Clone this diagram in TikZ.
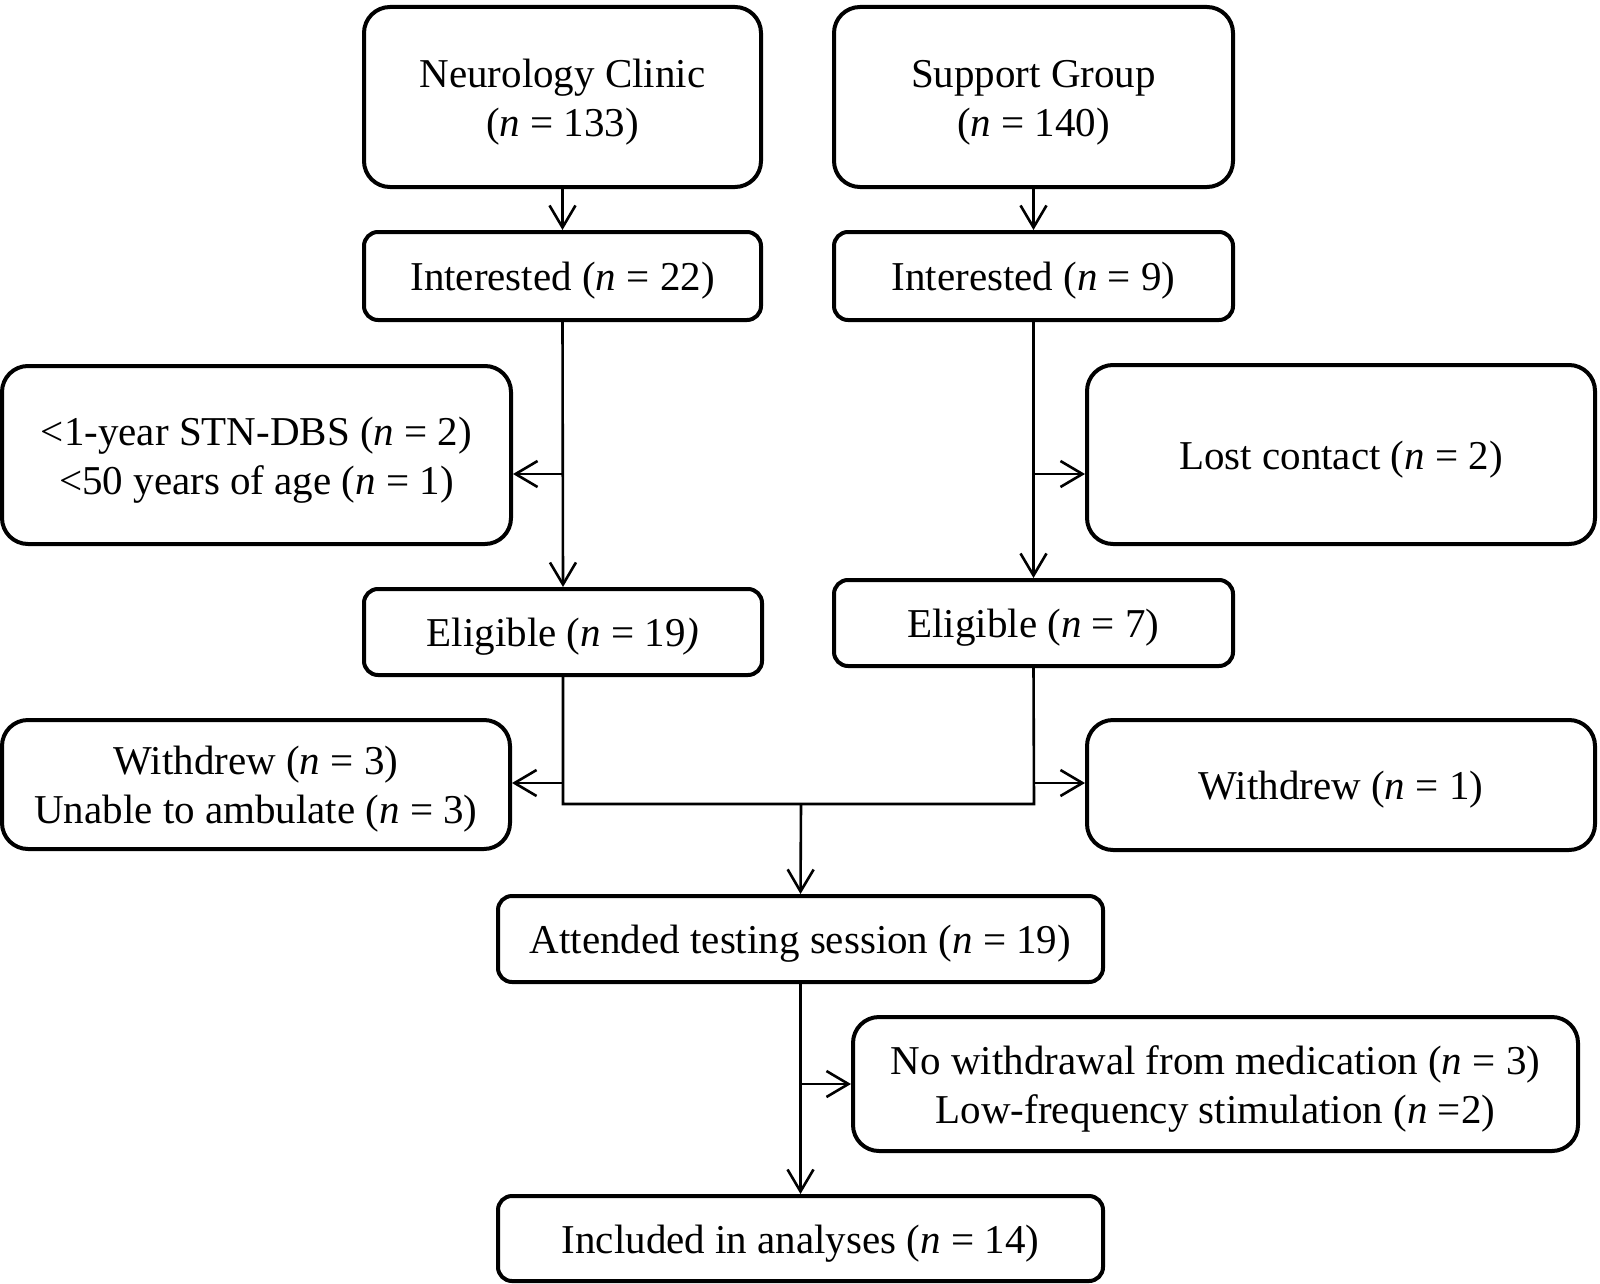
\documentclass[tikz,border=0pt]{standalone}
\usepackage{fontspec}
\setmainfont{Liberation Serif}
\usetikzlibrary{arrows.meta}
\newcommand{\bxt}[1]{\raisebox{-2.5pt}[\height][\depth]{\begin{tabular}{@{}c@{}}#1\end{tabular}}}
\begin{document}
\begin{tikzpicture}[x=0.5pt,y=-0.5pt,
  bigbox/.style={draw, line width=2pt, rounded corners=13pt, inner sep=0pt,
    font=\fontsize{20.5}{24.5}\selectfont},
  smallbox/.style={bigbox, rounded corners=7pt},
  conn/.style={line width=1.3pt},
  arr/.style={conn, -{Straight Barb[length=11pt,width=13pt]}}
]
\useasboundingbox (0,0) rectangle (1600,1284);
% boxes
\node[bigbox, minimum width=198.5pt, minimum height=90pt] (nc) at (562.5,97) {\bxt{Neurology Clinic\\(\textit{n} = 133)}};
\node[bigbox, minimum width=199.5pt, minimum height=90pt] (sg) at (1033.5,97) {\bxt{Support Group\\(\textit{n} = 140)}};
\node[smallbox, minimum width=198.5pt, minimum height=44pt] (int1) at (562.5,276) {\bxt{Interested (\textit{n} = 22)}};
\node[smallbox, minimum width=199.5pt, minimum height=44pt] (int2) at (1033.5,276) {\bxt{Interested (\textit{n} = 9)}};
\node[bigbox, minimum width=254.5pt, minimum height=89pt] (ex1) at (256.5,455) {\bxt{<1-year STN-DBS (\textit{n} = 2)\\<50 years of age (\textit{n} = 1)}};
\node[bigbox, minimum width=254pt, minimum height=89.5pt] (lost) at (1341,454.5) {\bxt{Lost contact (\textit{n} = 2)}};
\node[smallbox, minimum width=199pt, minimum height=43pt] (el1) at (563,632) {\bxt{Eligible (\textit{n} = 19\textit{)}}};
\node[smallbox, minimum width=199.5pt, minimum height=43pt] (el2) at (1033.5,623) {\bxt{Eligible (\textit{n} = 7)}};
\node[bigbox, minimum width=254pt, minimum height=64.5pt] (wd1) at (256,784.5) {\bxt{Withdrew (\textit{n} = 3)\\Unable to ambulate (\textit{n} = 3)}};
\node[bigbox, minimum width=254pt, minimum height=65pt] (wd2) at (1341,785) {\bxt{Withdrew (\textit{n} = 1)}};
\node[smallbox, minimum width=302.5pt, minimum height=43pt] (att) at (800.5,939) {\bxt{Attended testing session (\textit{n} = 19)}};
\node[bigbox, minimum width=362.5pt, minimum height=67pt] (nowd) at (1215.5,1084) {\bxt{No withdrawal from medication (\textit{n} = 3)\\Low-frequency stimulation (\textit{n} =2)}};
\node[smallbox, minimum width=302.5pt, minimum height=42.5pt] (inc) at (800.5,1238.5) {\bxt{Included in analyses (\textit{n} = 14)}};
% junction coordinates
\coordinate (b1) at (563,474);
\coordinate (b2) at (1034,474);
\coordinate (b3) at (563,783);
\coordinate (b4) at (1034,783);
\coordinate (jl) at (563,804);
\coordinate (jr) at (1034,804);
\coordinate (jm) at (801,804);
\coordinate (b5) at (801,1084);
% connectors
\draw[arr] (nc.south) -- (int1.north);
\draw[arr] (sg.south) -- (int2.north);
\draw[arr] (int1.south) -- (el1.north);
\draw[arr] (int2.south) -- (el2.north);
\draw[arr] (b1) -- (b1 -| ex1.east);
\draw[arr] (b2) -- (b2 -| lost.west);
\draw[conn] (el1.south) -- (jl) -- (jr) -- (el2.south);
\draw[arr] (b3) -- (b3 -| wd1.east);
\draw[arr] (b4) -- (b4 -| wd2.west);
\draw[arr] (jm) -- (att.north);
\draw[arr] (att.south) -- (inc.north);
\draw[arr] (b5) -- (b5 -| nowd.west);
\end{tikzpicture}
\end{document}
